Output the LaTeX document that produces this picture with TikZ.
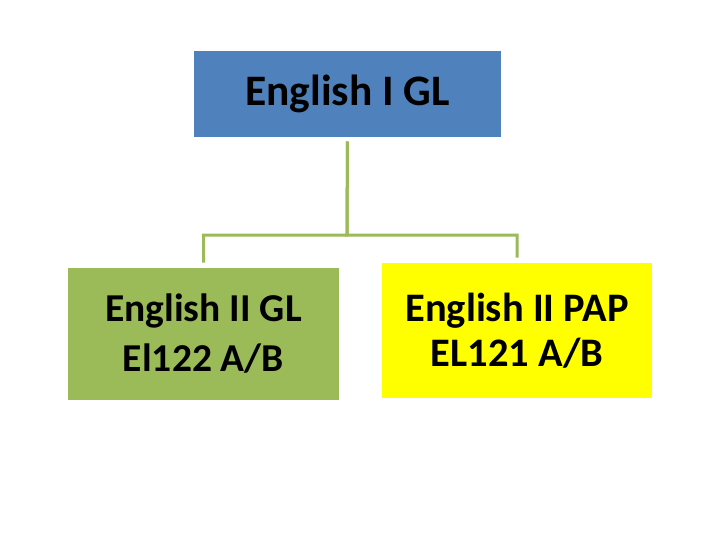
\documentclass[tikz,border=0pt]{standalone}
\usepackage{fontspec}
\setmainfont{Carlito}
\usepackage{xcolor}
\definecolor{topblue}{HTML}{4F81BD}
\definecolor{leafgreen}{HTML}{9BBB59}
\definecolor{leafyellow}{HTML}{FFFF00}

\begin{document}
\begin{tikzpicture}[x=1pt,y=-1pt,-,line width=3pt,course node/.style={rectangle,inner sep=0pt,align=center,font=\bfseries\fontsize{39.5}{50}\selectfont},link/.style={draw=leafgreen,shorten <=3pt,shorten >=4pt}]
                \useasboundingbox[fill=white] (0,0) rectangle (720,540);
                \node[course node,fill=topblue,minimum width=307pt,minimum height=86pt,font=\bfseries\fontsize{43.5}{50}\selectfont] (gl1) at (347.5,94) {English I GL};
                \node[course node,fill=leafgreen,minimum width=271pt,minimum height=132pt] (gl2) at (203.5,334) {English II GL\\El122 A/B};
                \node[course node,fill=leafyellow,minimum width=270pt,minimum height=135pt,font=\bfseries\fontsize{40.5}{45}\selectfont] (pap2) at (517,330.5) {English II PAP\\EL121 A/B};

                \coordinate (split) at (347,235);
                \draw[link] (gl1.south) -- (split) -| (gl2.north);
                \draw[link] (gl1.south) -- (split) -| (pap2.north);
            \end{tikzpicture}
\end{document}
